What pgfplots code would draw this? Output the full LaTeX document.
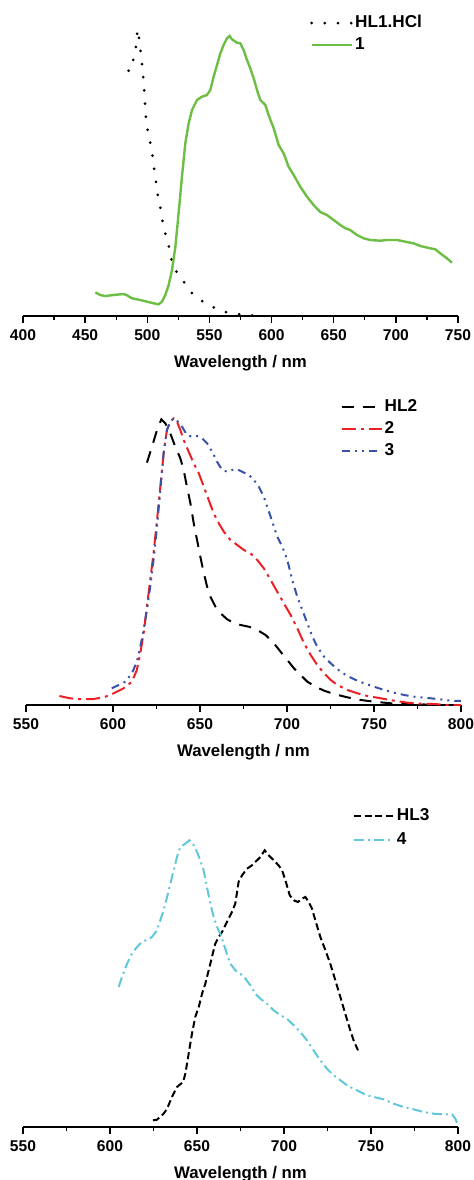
\documentclass[border=0pt]{standalone}
\usepackage{fontspec}
\setmainfont{Liberation Sans}
\usepackage{pgfplots}
\pgfplotsset{compat=1.18}

\definecolor{cgreen}{RGB}{108,190,69}
\definecolor{cred}{RGB}{236,32,36}
\definecolor{cblue}{RGB}{56,82,168}
\definecolor{ccyan}{RGB}{96,200,216}

% 1 px of the reference = 0.5pt
\pgfplotsset{
  spec/.style={
    scale only axis,
    width=217.5pt,
    axis x line*=bottom,
    hide y axis,
    ymin=0,
    xlabel={Wavelength / nm},
    xlabel style={font=\fontsize{8.4}{10}\selectfont\bfseries,
      at={(axis description cs:0.5,0)}, anchor=center, yshift=-23.5pt},
    tick label style={font=\fontsize{7.8}{9}\selectfont\bfseries},
    /pgf/number format/assume math mode=true,
    xticklabel style={anchor=center, yshift=-6.5pt},
    tick align=outside,
    major tick length=3.3pt,
    minor tick length=2pt,
    minor x tick num=1,
    axis line style={line width=1pt},
    every tick/.style={black, line width=0.7pt},
    legend cell align=left,
    legend style={draw=none, fill=none, inner sep=0pt, outer sep=0pt,
      font=\fontsize{8.6}{10}\selectfont\bfseries, row sep=1.3pt,
      nodes={inner sep=1pt}},
    legend image code/.code={\draw[##1] (0pt,0pt) -- (20pt,0pt);},
    every axis plot/.append style={line width=1pt},
  },
}

\begin{document}
\begin{tikzpicture}
\path[use as bounding box] (0pt,0pt) rectangle (237pt,-590pt);

% ---------- panel 1
\begin{axis}[spec,
  at={(11.5pt,-158pt)}, anchor=south west,
  height=158pt, ymax=316,
  xmin=400, xmax=750, xtick={400,450,...,750},
  legend style={at={(axis description cs:0.66,0.893)}, anchor=west},
]
\addplot[black, line width=1.5pt, line cap=round, dash pattern=on 0pt off 6.6pt] coordinates {
(485.0,245.3) (487.7,246.7) (489.0,259.3) (490.4,264.3) (491.2,274.3) (492.2,286.7)
(493.9,273.3) (494.9,261) (496.3,246) (497.1,232.7) (497.9,217.7) (499.2,192.7)
(501.4,179.3) (503.8,164.3) (505.1,151) (506.5,139.3) (507.8,124.3) (510.0,112.7)
(511.8,97.7) (513.7,86) (517.2,71) (519.1,57.7) (522.6,46) (529.3,34.3)
(536.0,22.7) (542.7,16) (552.1,9.3) (561.4,4.3) (572.2,2) (582.9,0.7) (593.6,0.3)
};
\addlegendentry{HL1.HCl}
\addplot[cgreen, line width=1.2pt] coordinates {
(458.2,23.7) (462.2,21) (466.2,20) (472.9,21) (481.0,22) (483.7,20.7) (487.7,17.7)
(494.4,16) (499.8,14.3) (505.1,12.7) (509.1,11.7) (511.8,14.3) (514.5,21) (517.2,31)
(519.9,46) (522.6,69.3) (525.2,102.7) (527.9,139.3) (530.6,172.7) (533.3,192.7)
(536.0,206) (540.0,216) (544.0,219.3) (548.0,221) (550.7,226) (553.4,239.3)
(556.1,251) (558.8,262.7) (561.4,271) (564.1,277.7) (566.3,280) (568.1,276.7)
(572.2,273.3) (574.8,272.7) (577.5,266) (580.2,256) (582.9,247.7) (585.6,237.7)
(588.3,226) (590.9,216) (595.0,211) (597.6,201) (601.7,187.7) (605.7,171)
(609.7,162.7) (613.7,149.3) (617.8,141) (623.1,129.3) (628.5,119.3) (633.8,111)
(639.2,104) (644.6,101) (649.9,96) (655.3,91) (659.3,87.7) (663.3,86) (668.7,81)
(674.1,77.7) (679.4,76) (687.5,75.3) (692.8,76) (700.9,76) (708.9,74) (714.3,72.7)
(719.7,70) (727.7,67.7) (731.7,66.7) (735.7,62.7) (741.1,57.7) (745.1,53.3)
};
\addlegendentry{1}
\end{axis}

% ---------- panel 2
\begin{axis}[spec,
  at={(13pt,-352.5pt)}, anchor=south west,
  height=157.5pt, ymax=315,
  xmin=550, xmax=800, xtick={550,600,...,800},
  legend style={at={(axis description cs:0.7235,0.876)}, anchor=west},
]
\addplot[black, dash pattern=on 6pt off 4.5pt] coordinates {
(619.5,242.3) (622.4,258.3) (625.3,275) (627.8,285.7) (630.1,281.7) (632.9,271.7)
(635.8,258.3) (638.7,246.7) (640.6,235) (642.5,218.3) (644.5,201.7) (646.4,181.7)
(648.3,165) (650.2,148.3) (652.2,131.7) (654.1,118.3) (656.0,108.3) (658.9,98.3)
(661.8,91.7) (665.6,85.7) (669.4,82.3) (673.3,80) (678.1,78.3) (682.9,75)
(687.7,70) (692.5,61.7) (696.3,53.3) (700.2,45) (704.0,36.7) (707.8,30)
(711.7,23.3) (716.5,18.3) (721.3,14.3) (727.0,11) (734.7,7.7) (742.4,5)
(750.1,3.3) (759.7,1.7) (769.3,1) (777.0,0.7) (784.6,0) (800,0)
};
\addlegendentry{HL2}
\addplot[cred, dash pattern=on 7pt off 2.5pt on 1.5pt off 2.5pt] coordinates {
(569.2,9) (575.3,6.7) (582.1,5.7) (588.8,6) (594.5,7.7) (598.4,10) (602.2,13.3)
(606.1,16.7) (610.9,23.3) (613.7,35) (615.7,51.7) (617.6,71.7) (619.5,98.3)
(621.4,125) (623.3,151.7) (625.3,185) (627.2,218.3) (629.1,251.7) (631.0,275)
(632.9,283.3) (634.9,286.7) (636.8,283.3) (638.7,275) (640.6,265) (643.5,253.3)
(646.4,241.7) (649.3,231.7) (652.2,218.3) (655.0,205) (657.9,191.7) (660.8,181.7)
(663.7,173.3) (667.5,165) (671.4,160) (675.2,155) (679.0,151.7) (682.9,145)
(686.7,136.7) (690.6,125) (694.4,113.3) (698.2,101.7) (702.1,90) (705.9,76.7)
(709.8,61.7) (713.6,50) (717.4,40) (721.3,31.7) (725.1,25) (729.0,20) (734.7,15)
(740.5,11.7) (746.2,9) (753.9,6.7) (761.6,4.3) (769.3,2.3) (777.0,1.3) (784.6,1)
(792.3,0) (800,0)
};
\addlegendentry{2}
\addplot[cblue, dash pattern=on 4pt off 2.5pt on 1pt off 2.5pt on 1pt off 2.5pt] coordinates {
(599.3,16.7) (603.2,20) (607.0,23.3) (610.9,31.7) (613.7,43.3) (615.7,58.3)
(617.6,75) (619.5,95) (621.4,118.3) (623.3,145) (625.3,178.3) (627.2,215)
(629.1,251.7) (631.0,275) (632.9,283.3) (634.9,286.7) (636.8,284.3) (639.7,278.3)
(642.5,270) (645.4,268.3) (648.3,269) (651.2,266.7) (654.1,261.7) (657.0,253.3)
(659.8,243.3) (662.7,235) (665.6,233.3) (668.5,235) (671.4,235.7) (674.2,233.3)
(678.1,230) (681.0,225) (683.8,218.3) (686.7,208.3) (688.6,198.3) (690.6,188.3)
(692.5,178.3) (694.4,168.3) (697.3,158.3) (700.2,145) (703.0,125) (705.9,108.3)
(708.8,95) (711.7,81.7) (714.6,68.3) (717.4,58.3) (721.3,48.3) (725.1,41.7)
(729.0,35.7) (733.8,30) (738.6,25.7) (744.3,21.7) (750.1,18.3) (755.8,15)
(761.6,12.3) (767.4,10) (773.1,8.3) (778.9,7.3) (786.6,6) (794.2,4.3) (800,4)
};
\addlegendentry{3}
\end{axis}

% ---------- panel 3
\begin{axis}[spec,
  at={(11.5pt,-563.5pt)}, anchor=south west,
  height=163.5pt, ymax=327,
  xmin=550, xmax=800, xtick={550,600,...,800},
  legend style={at={(axis description cs:0.7586,0.914)}, anchor=west, row sep=2.6pt},
]
\addplot[black, dash pattern=on 3.5pt off 1.8pt] coordinates {
(624.7,6.7) (627.0,7.3) (630.8,13.3) (632.8,18.3) (635.6,30) (638.5,40) (642.0,45)
(643.3,53.3) (645.2,73.3) (647.1,93.3) (649.0,110) (651.0,120) (652.9,133.3)
(654.8,143.3) (656.7,156.7) (658.6,170) (660.5,183.3) (662.5,190) (664.4,195)
(667.2,205) (670.1,215) (672.0,223.3) (673.9,245) (675.9,251.7) (678.7,258.3)
(681.6,261.7) (684.5,266.7) (686.4,270) (688.9,276.7) (691.2,271.7) (694.1,266.7)
(696.9,261.7) (698.9,256.7) (700.8,246.7) (703.3,231.7) (705.6,226.7) (708.0,225)
(710.3,228.3) (712.3,230) (714.2,225) (716.1,218.3) (718.0,206.7) (720.9,190)
(723.8,176.7) (726.6,163.3) (729.5,146.7) (732.4,130) (735.2,113.3) (738.1,96.7)
(740.0,86.7) (742.5,76.7)
};
\addlegendentry{HL3}
\addplot[ccyan, dash pattern=on 5pt off 2pt on 1pt off 2pt] coordinates {
(605.0,140) (606.9,150) (609.8,163.3) (612.6,173.3) (615.5,180) (618.4,185)
(621.3,187.3) (624.1,190) (627.0,196.7) (628.9,206.7) (630.8,216.7) (632.8,230)
(634.7,243.3) (636.6,256.7) (638.5,270) (640.4,280) (643.3,283.3) (645.6,286.7)
(648.1,281.7) (650.0,275) (651.9,266.7) (653.8,256.7) (655.7,240) (657.7,223.3)
(659.6,210) (661.5,200) (663.4,193.3) (665.3,183.3) (667.2,173.3) (669.2,163.3)
(672.0,156.7) (674.9,153.3) (677.8,148.3) (680.7,141.7) (683.5,133.3) (686.4,128.3)
(690.2,123.3) (694.1,116.7) (697.9,111.7) (701.7,108.3) (705.6,101.7) (709.4,95)
(713.2,86.7) (717.0,76.7) (720.9,66.7) (724.7,58.3) (728.5,51.7) (732.4,46.7)
(736.2,41.7) (740.0,38.3) (743.9,35) (747.7,31.7) (751.5,30) (757.3,27.7)
(763.0,23.3) (768.8,20) (774.5,17.7) (780.3,15) (786.0,13.3) (791.8,12.7)
(796.6,12.7) (798.5,8.3) (800,1.7)
};
\addlegendentry{4}
\end{axis}
\end{tikzpicture}
\end{document}
